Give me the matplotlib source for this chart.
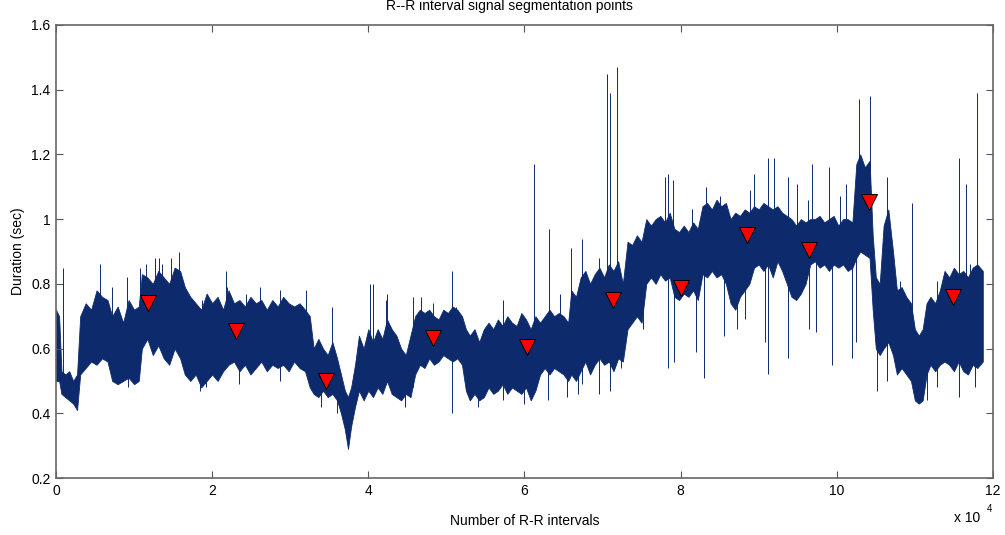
import numpy as np
import matplotlib
matplotlib.use("Agg")
import matplotlib.pyplot as plt
from matplotlib.ticker import FuncFormatter, MultipleLocator

plt.rcParams["font.family"] = ["Liberation Sans", "DejaVu Sans"]
plt.rcParams["font.size"] = 10

# envelope of the R-R series: position, upper, lower (sec)
env_x = [0, 400, 700, 1200, 1700, 2200, 2700, 3100, 3800, 4500, 5200, 5900, 6600,
         7200, 7900, 8600, 9300, 10000, 10600, 11000, 11700, 12400, 13100, 13800,
         14500, 15200, 15900, 16500, 17200, 17900, 18600, 19300, 20000, 20700,
         21400, 22100, 22800, 23500, 24200, 24900, 25600, 26300, 27000, 27700,
         28400, 29100, 29800, 30500, 31200, 31900, 32500, 33000, 33600, 34200,
         34800, 35400, 36000, 36500, 37000, 37400, 37800, 38300, 38800, 39400,
         40000, 40600, 41200, 41800, 42400, 43000, 43600, 44200, 44800, 45400,
         46000, 46600, 47200, 47800, 48400, 49000, 49600, 50200, 50800, 51400,
         52000, 52500, 53000, 53600, 54200, 54800, 55400, 56000, 56600, 57200,
         57800, 58400, 59000, 59600, 60200, 60800, 61400, 62000, 62600, 63200,
         63800, 64400, 65000, 65600, 66000, 66600, 67200, 67800, 68400, 69000,
         69600, 70200, 70800, 71400, 72000, 72600, 73200, 73800, 74400, 75000,
         75600, 76200, 76800, 77400, 78000, 78600, 79200, 79800, 80400, 81000,
         81600, 82200, 82800, 83400, 84000, 84600, 85200, 85800, 86400, 87000,
         87600, 88200, 88800, 89400, 90000, 90600, 91200, 91800, 92400, 93000,
         93600, 94200, 94800, 95400, 96000, 96600, 97200, 97800, 98400, 99000,
         99600, 100200, 100800, 101400, 102000, 102500, 103000, 103600, 104200,
         104600, 105000, 105500, 106000, 106600, 107200, 107700, 108300, 108900,
         109500, 110000, 110500, 111000, 111500, 112000, 112600, 113200, 113800,
         114400, 115000, 115600, 116200, 116800, 117400, 118000, 118700]
env_hi = [0.72, 0.70, 0.53, 0.52, 0.53, 0.50, 0.52, 0.70, 0.74, 0.72, 0.78, 0.76, 0.75,
          0.70, 0.73, 0.68, 0.75, 0.72, 0.73, 0.83, 0.82, 0.80, 0.84, 0.82,
          0.80, 0.85, 0.84, 0.79, 0.76, 0.74, 0.72, 0.77, 0.74, 0.76,
          0.72, 0.78, 0.74, 0.75, 0.73, 0.76, 0.74, 0.75, 0.72, 0.75,
          0.73, 0.76, 0.74, 0.73, 0.74, 0.72, 0.70, 0.60, 0.63, 0.60,
          0.58, 0.62, 0.57, 0.52, 0.47, 0.45, 0.48, 0.55, 0.64, 0.60,
          0.66, 0.62, 0.66, 0.63, 0.69, 0.66, 0.64, 0.60, 0.58, 0.64,
          0.70, 0.72, 0.71, 0.72, 0.70, 0.69, 0.72, 0.71, 0.73, 0.72,
          0.70, 0.66, 0.64, 0.66, 0.62, 0.66, 0.68, 0.66, 0.69, 0.67,
          0.70, 0.68, 0.67, 0.71, 0.69, 0.66, 0.70, 0.68, 0.70, 0.72,
          0.70, 0.71, 0.70, 0.68, 0.78, 0.76, 0.82, 0.84, 0.80, 0.83,
          0.85, 0.82, 0.86, 0.84, 0.87, 0.80, 0.93, 0.92, 0.95, 0.93,
          1.00, 0.98, 1.00, 1.01, 0.99, 1.02, 0.97, 0.96, 0.98, 0.96,
          0.99, 0.97, 1.04, 1.05, 1.03, 1.06, 1.04, 1.05, 1.00, 1.02,
          1.01, 1.03, 1.02, 1.04, 1.03, 1.05, 1.04, 1.03, 1.04, 1.02,
          1.01, 1.00, 0.98, 1.00, 0.99, 1.00, 1.00, 1.01, 0.99, 1.00,
          1.01, 0.98, 1.00, 1.00, 0.99, 1.17, 1.20, 1.16, 1.18,
          0.95, 0.82, 0.80, 0.98, 1.03, 0.90, 0.78, 0.79, 0.76,
          0.74, 0.66, 0.64, 0.66, 0.74, 0.76, 0.74, 0.78, 0.84,
          0.82, 0.85, 0.83, 0.84, 0.82, 0.85, 0.86, 0.84]
env_lo = [0.50, 0.50, 0.46, 0.45, 0.44, 0.43, 0.41, 0.52, 0.54, 0.56, 0.55, 0.57, 0.56,
          0.50, 0.49, 0.50, 0.51, 0.49, 0.50, 0.60, 0.63, 0.58, 0.61, 0.57,
          0.55, 0.60, 0.57, 0.52, 0.50, 0.52, 0.48, 0.50, 0.52, 0.50,
          0.53, 0.55, 0.56, 0.53, 0.55, 0.52, 0.54, 0.56, 0.53, 0.55,
          0.54, 0.55, 0.53, 0.56, 0.54, 0.53, 0.48, 0.46, 0.45, 0.47,
          0.45, 0.46, 0.44, 0.40, 0.35, 0.29, 0.36, 0.42, 0.47, 0.44,
          0.47, 0.45, 0.48, 0.46, 0.50, 0.46, 0.45, 0.44, 0.46, 0.45,
          0.52, 0.55, 0.54, 0.57, 0.55, 0.56, 0.58, 0.57, 0.56, 0.57,
          0.55, 0.47, 0.44, 0.46, 0.44, 0.45, 0.48, 0.46, 0.47, 0.49,
          0.46, 0.48, 0.47, 0.46, 0.48, 0.44, 0.47, 0.52, 0.54, 0.52,
          0.54, 0.53, 0.52, 0.50, 0.52, 0.50, 0.53, 0.56, 0.52, 0.55,
          0.57, 0.55, 0.56, 0.53, 0.57, 0.56, 0.66, 0.68, 0.70, 0.68,
          0.80, 0.82, 0.80, 0.83, 0.81, 0.82, 0.76, 0.75, 0.77, 0.76,
          0.78, 0.75, 0.83, 0.82, 0.84, 0.82, 0.83, 0.80, 0.74, 0.72,
          0.76, 0.78, 0.80, 0.85, 0.86, 0.84, 0.86, 0.82, 0.87, 0.84,
          0.80, 0.76, 0.75, 0.77, 0.80, 0.86, 0.87, 0.85, 0.86, 0.84,
          0.86, 0.85, 0.86, 0.84, 0.85, 0.88, 0.90, 0.89, 0.88,
          0.72, 0.60, 0.58, 0.60, 0.62, 0.58, 0.52, 0.54, 0.52,
          0.50, 0.44, 0.43, 0.44, 0.52, 0.55, 0.53, 0.55, 0.56,
          0.55, 0.53, 0.56, 0.53, 0.52, 0.55, 0.54, 0.56]

# isolated beats sticking out above the band
spike_x = [900, 5600, 7200, 9100, 10800, 11500, 12700, 13200, 13600, 14700, 15700,
           18700, 21800, 21900, 24400, 26100, 28700, 32000, 35300, 40200, 40600,
           42300, 42400, 45700, 46700, 48300, 50700, 51200, 57200, 61200, 63200,
           64500, 65900, 67400, 69600, 70600, 70900, 71800, 78000, 78400, 79000,
           81500, 83300, 85000, 88900, 89400, 91200, 92000, 93700, 94900, 96300,
           96800, 99000, 100400, 101200, 102800, 104300, 106400, 108100, 109600,
           112800, 114000, 115700, 116600, 117100, 118000]
spike_top = [0.85, 0.86, 0.79, 0.82, 0.85, 0.86, 0.88, 0.88, 0.86, 0.88, 0.90,
             0.75, 0.84, 0.79, 0.77, 0.79, 0.78, 0.78, 0.73, 0.80, 0.80,
             0.75, 0.77, 0.76, 0.76, 0.74, 0.84, 0.73, 0.75, 1.17, 0.97,
             0.77, 0.91, 0.94, 0.88, 1.45, 1.39, 1.47, 1.13, 1.14, 1.12,
             1.03, 1.10, 1.07, 1.09, 1.14, 1.19, 1.19, 1.13, 1.11, 1.06,
             1.17, 1.16, 1.07, 1.11, 1.37, 1.38, 1.13, 0.81, 1.05,
             0.81, 0.83, 1.19, 1.11, 0.86, 1.39]
# isolated beats dropping below the band
dip_x = [7900, 9200, 18400, 19200, 23400, 28700, 33900, 36000, 44700, 45700,
         50700, 54000, 57200, 60000, 63000, 65500, 66800, 67400, 69600, 71000,
         72400, 75200, 78400, 79200, 82000, 83000, 85500, 87200, 88300, 90800,
         91200, 93700, 96400, 97400, 99400, 101900, 102400, 105200, 106400,
         111500, 112800, 115700, 117700]
dip_bottom = [0.49, 0.48, 0.47, 0.48, 0.49, 0.50, 0.42, 0.40, 0.42, 0.48,
              0.40, 0.42, 0.44, 0.43, 0.44, 0.45, 0.46, 0.49, 0.46, 0.47,
              0.54, 0.66, 0.54, 0.56, 0.59, 0.51, 0.64, 0.66, 0.69, 0.62,
              0.52, 0.57, 0.66, 0.65, 0.55, 0.57, 0.62, 0.47, 0.50,
              0.44, 0.48, 0.45, 0.48]

# segmentation points
seg_x = [11780, 23000, 34600, 48300, 60300, 71300, 80000, 88500, 96400, 104100, 114900]
seg_y = [0.741, 0.654, 0.500, 0.633, 0.605, 0.750, 0.787, 0.951, 0.905, 1.053, 0.759]

navy = "#0d2a6d"

fig = plt.figure(figsize=(10.05, 5.35), dpi=100)
ax = fig.add_axes([0.0557, 0.1065, 0.9323, 0.8468])

ax.fill_between(env_x, env_lo, env_hi, color=navy, linewidth=0.6, edgecolor=navy)
# spikes start from the middle of the band at their position
mid = (np.array(env_hi) + np.array(env_lo)) / 2
ax.vlines(spike_x, np.interp(spike_x, env_x, mid), spike_top, color=navy, linewidth=0.7)
ax.vlines(dip_x, dip_bottom, np.interp(dip_x, env_x, mid), color=navy, linewidth=0.7)
ax.plot(seg_x, seg_y, linestyle="none", marker="v", markersize=11,
        markerfacecolor="red", markeredgecolor="black", markeredgewidth=0.7)

ax.set_xlim(0, 120000)
ax.set_ylim(0.2, 1.6)
ax.xaxis.set_major_locator(MultipleLocator(20000))
ax.yaxis.set_major_locator(MultipleLocator(0.2))
ax.xaxis.set_major_formatter(FuncFormatter(lambda v, p: f"{v / 1e4:g}"))
ax.yaxis.set_major_formatter(FuncFormatter(lambda v, p: f"{v:g}"))
ax.tick_params(direction="in", length=5, top=True, right=True, colors="#555555",
               labelcolor="black", labelsize=10, pad=4)
for s in ax.spines.values():
    s.set_color("#666666")
    s.set_linewidth(1.2)

fig.text(509 / 1005, 1 - 6 / 535, "R--R interval signal segmentation points",
         fontsize=10, ha="center", va="center")
ax.set_xlabel("Number of R-R intervals", fontsize=10, labelpad=12)
ax.set_ylabel("Duration (sec)", fontsize=10, labelpad=4)
ax.text(0.958, -0.088, "x 10", transform=ax.transAxes, fontsize=10, ha="left", va="center")
ax.text(0.993, -0.068, "4", transform=ax.transAxes, fontsize=7, ha="left", va="center")

fig.savefig("out.png", dpi=100)
